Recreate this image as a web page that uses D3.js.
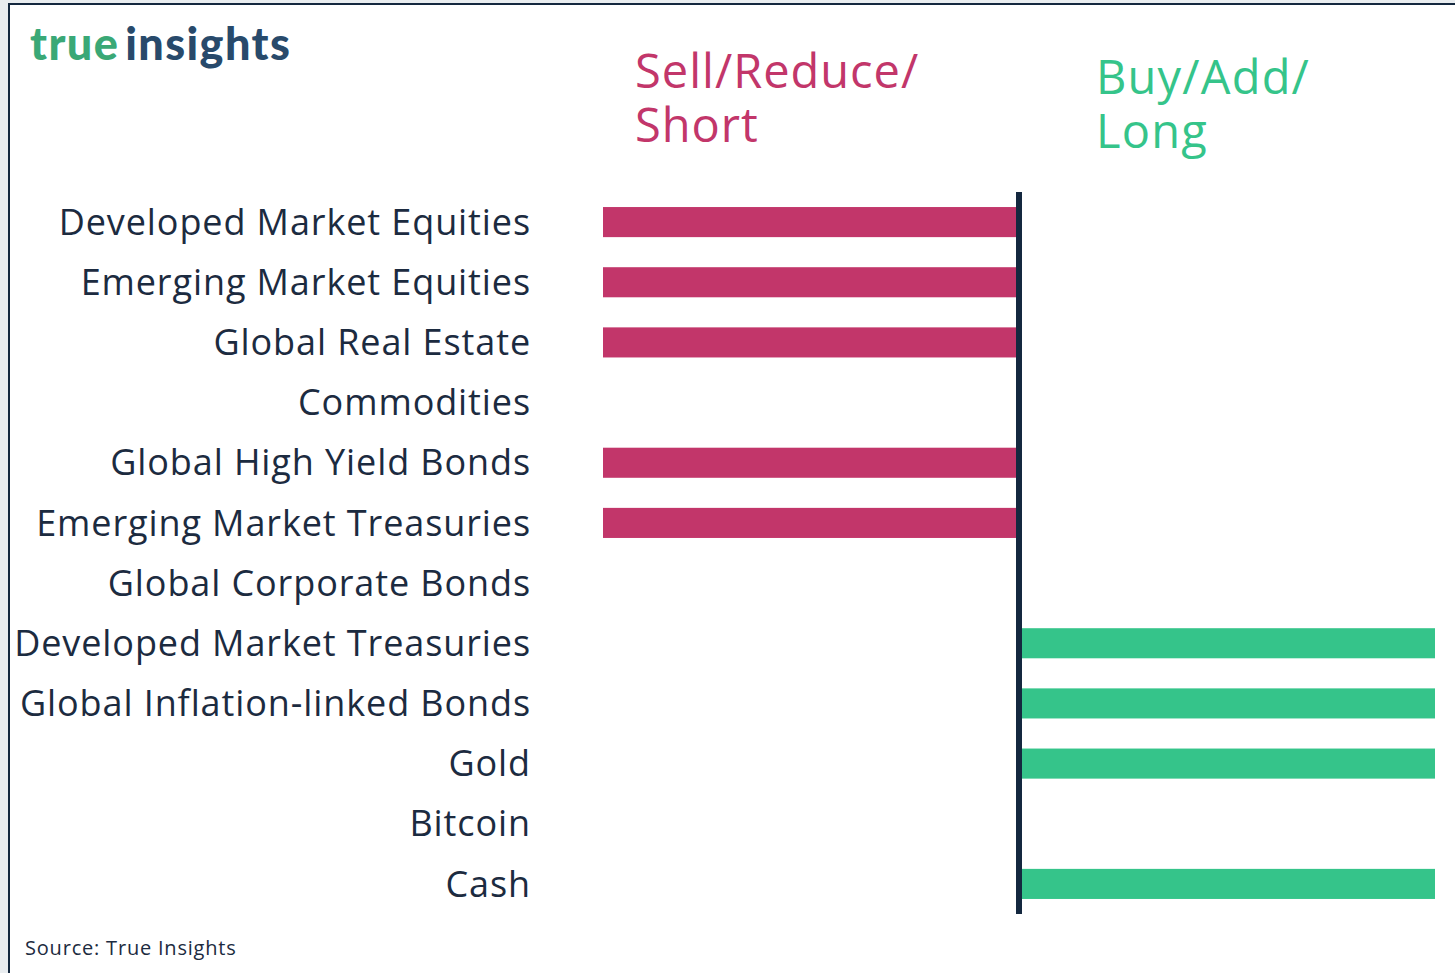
<!DOCTYPE html>
<html>
<head>
<meta charset="utf-8">
<script src="https://cdn.jsdelivr.net/npm/d3@7"></script>
<style>
  body { margin: 0; background: #e9edf0; }
  svg { display: block; }
</style>
</head>
<body>
<div id="chart-area"></div>
<script>
// asset classes, top to bottom
var categories = ["Developed Market Equities", "Emerging Market Equities", "Global Real Estate",
  "Commodities", "Global High Yield Bonds", "Emerging Market Treasuries", "Global Corporate Bonds",
  "Developed Market Treasuries", "Global Inflation-linked Bonds", "Gold", "Bitcoin", "Cash"];
// -1 = sell/reduce/short, 1 = buy/add/long, 0 = neutral
var stance = [-1, -1, -1, 0, -1, -1, 0, 1, 1, 1, 0, 1];

var sellLines = ["Sell/Reduce/", "Short"];
var buyLines = ["Buy/Add/", "Long"];

var red = "#c2366a", green = "#35c48a", navy = "#1c2b40";

var svg = d3.select("#chart-area").append("svg")
     .attr("width", 1455)
     .attr("height", 973);

// card
svg.append("rect")
     .attr("x", 9).attr("y", 4)
     .attr("width", 1460).attr("height", 980)
     .attr("fill", "#fff")
     .attr("stroke", "#14283f")
     .attr("stroke-width", 2);

var x = d3.scaleLinear()
     .domain([-1, 1])
     .range([603, 1435]);

var y = d3.scaleBand()
     .domain(categories)
     .range([192, 914])
     .paddingInner(0.5)
     .paddingOuter(0.25);

svg.selectAll("rect.bar")
     .data(stance)
     .enter()
     .append("rect")
     .attr("class", "bar")
     .attr("x", (d) => { return x(Math.min(0, d)); })
     .attr("y", (d, i) => { return y(categories[i]); })
     .attr("width", (d) => { return Math.abs(x(d) - x(0)); })
     .attr("height", y.bandwidth())
     .attr("fill", (d) => { return d < 0 ? red : green; });

// centre line
svg.append("line")
     .attr("x1", x(0)).attr("x2", x(0))
     .attr("y1", 192).attr("y2", 914)
     .attr("stroke", "#14283f")
     .attr("stroke-width", 6);

// category labels
svg.selectAll("text.cat")
     .data(categories)
     .enter()
     .append("text")
     .attr("class", "cat")
     .attr("x", 531)
     .attr("y", (d) => { return y(d) + y.bandwidth() / 2; })
     .attr("dy", "0.35em")
     .attr("text-anchor", "end")
     .attr("font-family", "Open Sans")
     .attr("font-size", 36)
     .attr("letter-spacing", 0.9)
     .attr("fill", navy)
     .text((d) => { return d; });

// headers, two lines each in one text
function header(lines, x0, y0, color, ls) {
     var t = svg.append("text")
          .attr("x", x0).attr("y", y0)
          .attr("font-family", "Open Sans")
          .attr("font-size", 47)
          .attr("letter-spacing", ls)
          .attr("fill", color);
     t.selectAll("tspan")
          .data(lines)
          .enter()
          .append("tspan")
          .attr("x", x0)
          .attr("dy", (d, i) => { return i === 0 ? 0 : 54; })
          .text((d) => { return d; });
}
header(sellLines, 635, 88, red, 1);
header(buyLines, 1096, 94, green, 1.2);

// logo
var logo = svg.append("text")
     .attr("x", 30).attr("y", 60)
     .attr("font-family", "Lato")
     .attr("font-weight", 900)
     .attr("font-size", 45)
     .attr("letter-spacing", 1.4);
logo.append("tspan").attr("fill", "#3aa876").text("true");
logo.append("tspan").attr("fill", "#284a6b").attr("dx", 6).text("insights");

svg.append("text")
     .attr("x", 25).attr("y", 955)
     .attr("font-family", "Open Sans")
     .attr("font-size", 20)
     .attr("letter-spacing", 0.8)
     .attr("fill", navy)
     .text("Source: True Insights");
</script>
</body>
</html>
